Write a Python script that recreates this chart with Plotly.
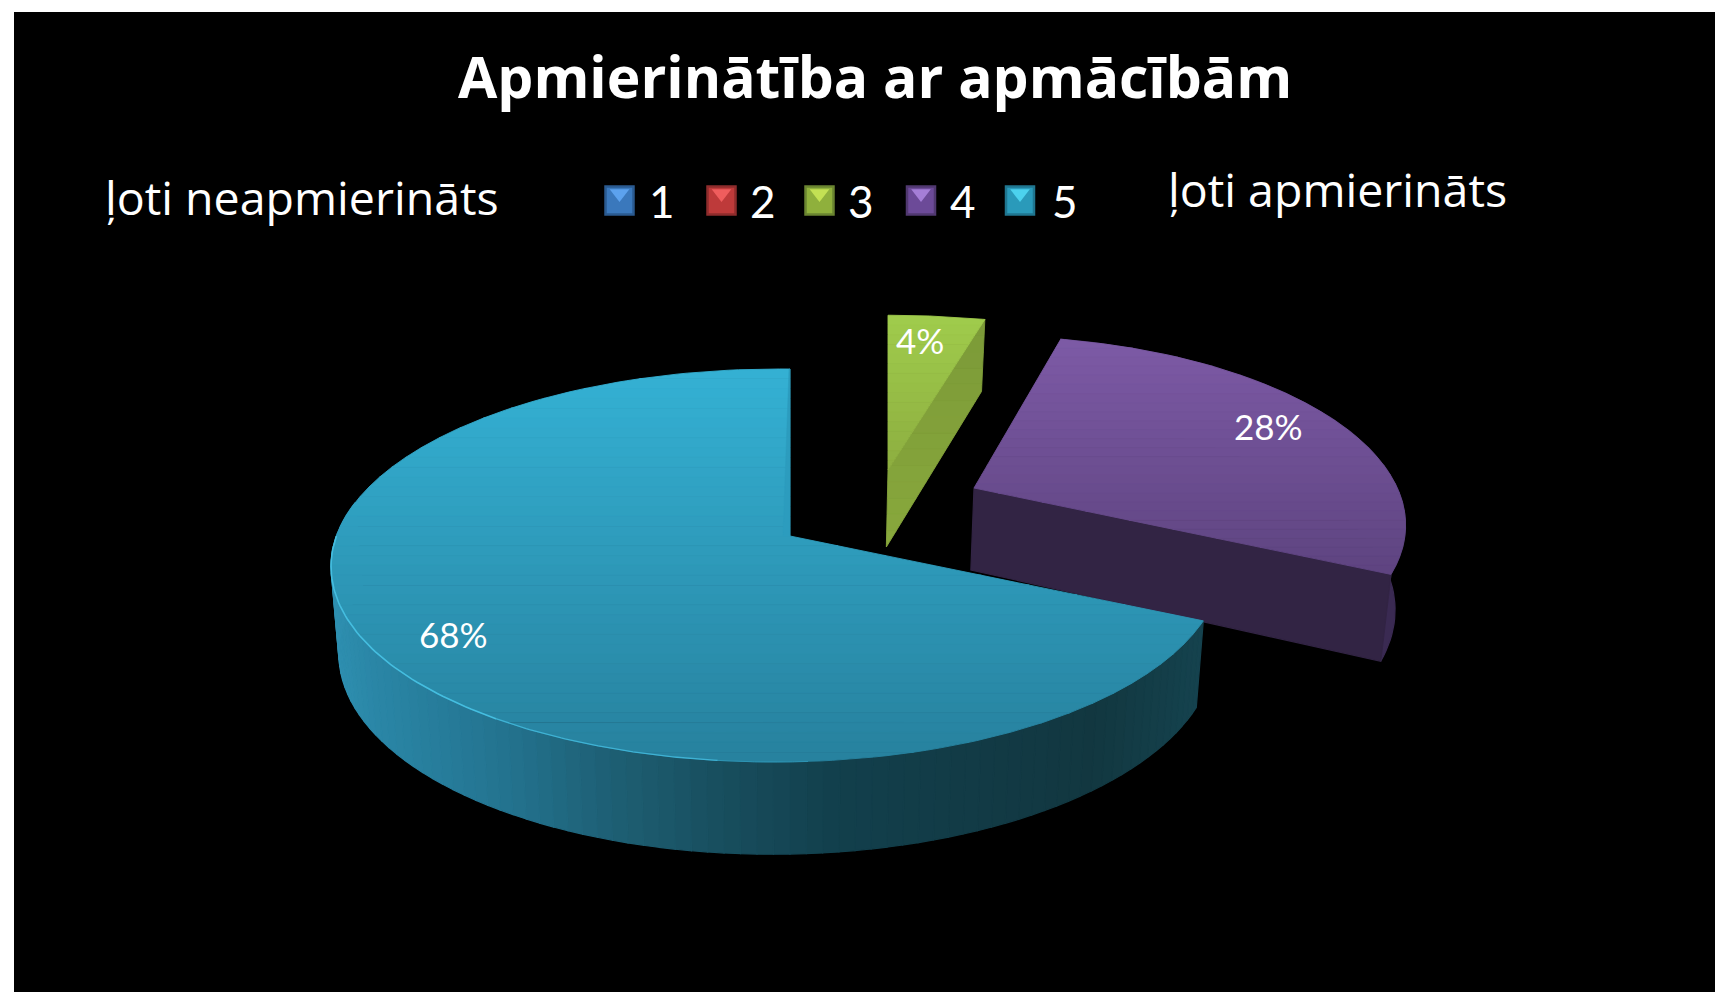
import numpy as np
import plotly.graph_objects as go

# ---- data ----
categories = ["1", "2", "3", "4", "5"]
values = [0, 0, 4, 28, 68]
title_text = "Apmierinātība ar apmācībām"
left_note = "ļoti neapmierināts"
right_note = "ļoti apmierināts"

# ---- styling / placement ----
FONT = "Lato"
FONT_WIDE = "Open Sans"
W, H = 1715, 992
VX, SHRINK = 790, 0.017  # vanishing x of the lower face

# per-category projection of the tilted disc (0 valued categories draw nothing)
geom = {
    "3": dict(cx=888, cy=470, R=446, Rs=178, k=0.15, m=0.0, D=77),
    "4": dict(cx=974, cy=488, R=411, Rs=181, k=0.192, m=-0.029, D=82),
    "5": dict(cx=790, cy=536, R=440, Rs=192, k=0.15, m=0.03, D=85),
}
top_cols = {"3": ("#A0CC4C", "#8DAE40"), "4": ("#7D5AA6", "#5E4480"), "5": ("#34B1D4", "#27819E")}
label_pos = {"3": (920, 340), "4": (1268, 426), "5": (453, 634)}
legend_x = [619.5, 721.5, 819.5, 921, 1020]
legend_text_x = [647, 748, 846, 948, 1050]
legend_y = 200.5
legend_cols = ["#3A78BC", "#BE3A3A", "#8FB03C", "#6C4A98", "#2A9ABA"]
legend_edge = ["#2A5A90", "#8E2C2C", "#6A8430", "#503870", "#1F7690"]
legend_hi = ["#68B0FF", "#FF6A6A", "#D4F25C", "#B890EC", "#58E4FF"]
side5_stops = [(335, "#2E8FB0"), (376, "#2A86A6"), (510, "#23728E"), (606, "#1E6075"), (721, "#184E5E"),
               (836, "#123F4C"), (1094, "#123740"), (1205, "#15434F")]


def rgb(h):
    return np.array([int(h[i:i + 2], 16) for i in (1, 3, 5)], float)


def mix(a, b, t):
    c = rgb(a) * (1 - t) + rgb(b) * t
    return "rgb(%d,%d,%d)" % tuple(c.round())


def project(g, theta_deg, r=1.0):
    th = np.radians(theta_deg)
    X, Y = r * np.cos(th), r * np.sin(th)
    w = 1 + g["k"] * Y + g["m"] * X
    return g["cx"] + g["R"] * X / w, g["cy"] - g["Rs"] * Y / w, w


def lower(g, x, y, w):
    return x - (x - VX) * SHRINK, y + g["D"] / np.sqrt(w)


def clip_band(xs, ys, y0, y1):
    pts = list(zip(xs, ys))

    def clip(points, inside, cross):
        out = []
        for i, p in enumerate(points):
            q = points[(i + 1) % len(points)]
            if inside(p):
                out.append(p)
            if inside(p) != inside(q):
                t = (cross - p[1]) / (q[1] - p[1])
                out.append((p[0] + t * (q[0] - p[0]), cross))
        return out

    pts = clip(pts, lambda p: p[1] >= y0, y0)
    if pts:
        pts = clip(pts, lambda p: p[1] <= y1, y1)
    return pts


fig = go.Figure()


def poly(xs, ys, color, lw=1.2):
    fig.add_trace(go.Scatter(
        x=list(xs) + [xs[0]], y=list(ys) + [ys[0]], mode="lines", fill="toself",
        fillcolor=color, line=dict(color=color, width=lw), hoverinfo="skip", showlegend=False))


def gradient(xs, ys, c0, c1, n=28):
    y0, y1 = min(ys), max(ys)
    edges = np.linspace(y0, y1, n + 1)
    for i in range(n):
        p = clip_band(xs, ys, edges[i], edges[i + 1])
        if len(p) >= 3:
            poly([a for a, _ in p], [b for _, b in p], mix(c0, c1, (i + 0.5) / n), 0.9)


# slice angles from the values (clockwise from 12 o'clock): (start, end) with start > end
ends = np.cumsum(values) * 3.6
starts = ends - np.array(values) * 3.6
ang = {c: (90 - s, 90 - e) for c, s, e in zip(categories, starts, ends) if e > s}


def top_outline(c):
    g = geom[c]
    a0, a1 = ang[c]
    x, y, _ = project(g, np.linspace(a0, a1, 160))
    return [g["cx"]] + list(x), [g["cy"]] + list(y)


# --- category 3 ---
g = geom["3"]
a0, a1 = ang["3"]
rx, ry, rw = project(g, a1)
bx, by = lower(g, rx, ry, rw)
ax, ay = lower(g, g["cx"], g["cy"], 1.0)
gradient([g["cx"], rx, bx, ax], [g["cy"], ry, by, ay], "#7C9A38", "#88A83C", 14)
xs, ys = top_outline("3")
gradient(xs, ys, *top_cols["3"], 16)

# --- category 4 ---
g = geom["4"]
a0, a1 = ang["4"]
th = np.linspace(a1, a0, 70)
x, y, w = project(g, th)
bx, by = lower(g, x, y, w)
poly(list(x) + list(bx[::-1]), list(y) + list(by[::-1]), "#3A2A52")
ex, ey, ew = project(g, a1)
ebx, eby = lower(g, ex, ey, ew)
ax, ay = lower(g, g["cx"], g["cy"], 1.0)
poly([g["cx"], ex, ebx, ax], [g["cy"], ey, eby, ay], "#322444")
xs, ys = top_outline("4")
gradient(xs, ys, *top_cols["4"], 26)

# --- category 5 ---
g = geom["5"]
a0, a1 = ang["5"]
th = np.linspace(a0 + 360, 170, 90)
sx = [s[0] for s in side5_stops]
for i in range(len(th) - 1):
    pair = np.array([th[i], th[i + 1]])
    x, y, w = project(g, pair)
    bx, by = lower(g, x, y, w)
    mid = (x.mean() + bx.mean()) / 2
    j = max(min(np.searchsorted(sx, mid), len(sx) - 1), 1)
    t = np.clip((mid - sx[j - 1]) / (sx[j] - sx[j - 1]), 0, 1)
    poly(list(x) + list(bx[::-1]), list(y) + list(by[::-1]),
         mix(side5_stops[j - 1][1], side5_stops[j][1], t))
xs, ys = top_outline("5")
gradient(xs, ys, *top_cols["5"], 40)
# inner wall sliver next to the start edge
tx, ty, _ = project(g, a1)
poly([g["cx"], g["cx"] - 7, tx - 1, tx], [g["cy"], g["cy"], ty, ty], "#2C9CBE", 0.5)
# bright rim on the front edge
for lo, hi, col, wd in [(180, 235, "#45BEE0", 1.6), (235, 262, "#3FB2D4", 1.3), (262, 272, "#2E94B4", 1.0)]:
    x, y, _ = project(g, np.linspace(lo, hi, 60))
    fig.add_trace(go.Scatter(x=x, y=y, mode="lines", line=dict(color=col, width=wd),
                             hoverinfo="skip", showlegend=False))

# --- legend ---
fig.add_trace(go.Scatter(
    x=legend_x, y=[legend_y] * 5, mode="markers", hoverinfo="skip", showlegend=False,
    marker=dict(symbol="square", size=28, color=legend_cols, line=dict(color=legend_edge, width=2.5))))
fig.add_trace(go.Scatter(
    x=legend_x, y=[legend_y - 7] * 5, mode="markers", hoverinfo="skip", showlegend=False,
    marker=dict(symbol="triangle-down", size=17, color=legend_hi, opacity=0.75, line=dict(width=0))))

ann = []


def text(x, y, s, size, anchor="left", bold=False, family=FONT):
    ann.append(dict(x=x, y=y, text=("<b>%s</b>" % s) if bold else s, showarrow=False, xanchor=anchor,
                    yanchor="middle", xref="x", yref="y",
                    font=dict(family=family, size=size, color="white")))


text(874.5, 76, title_text, 57, "center", True, FONT_WIDE)
text(103, 197, left_note, 46.5, "left", False, FONT_WIDE)
text(1166, 189, right_note, 46.5, "left", False, FONT_WIDE)
for c, x in zip(categories, legend_text_x):
    text(x, 201, c, 44)
for c, v in zip(categories, values):
    if v:
        text(label_pos[c][0], label_pos[c][1], "%d%%" % v, 35, "center")

fig.update_layout(
    width=W, height=H, autosize=False,
    margin=dict(l=14, r=0, t=12, b=0, pad=0),
    paper_bgcolor="white", plot_bgcolor="black",
    xaxis=dict(range=[14, W], visible=False, fixedrange=True),
    yaxis=dict(range=[H, 12], visible=False, fixedrange=True),
    annotations=ann, showlegend=False,
)
fig.write_html("out.html", config=dict(displayModeBar=False),
               post_script="document.body.style.margin='0';document.body.style.overflow='hidden';")
